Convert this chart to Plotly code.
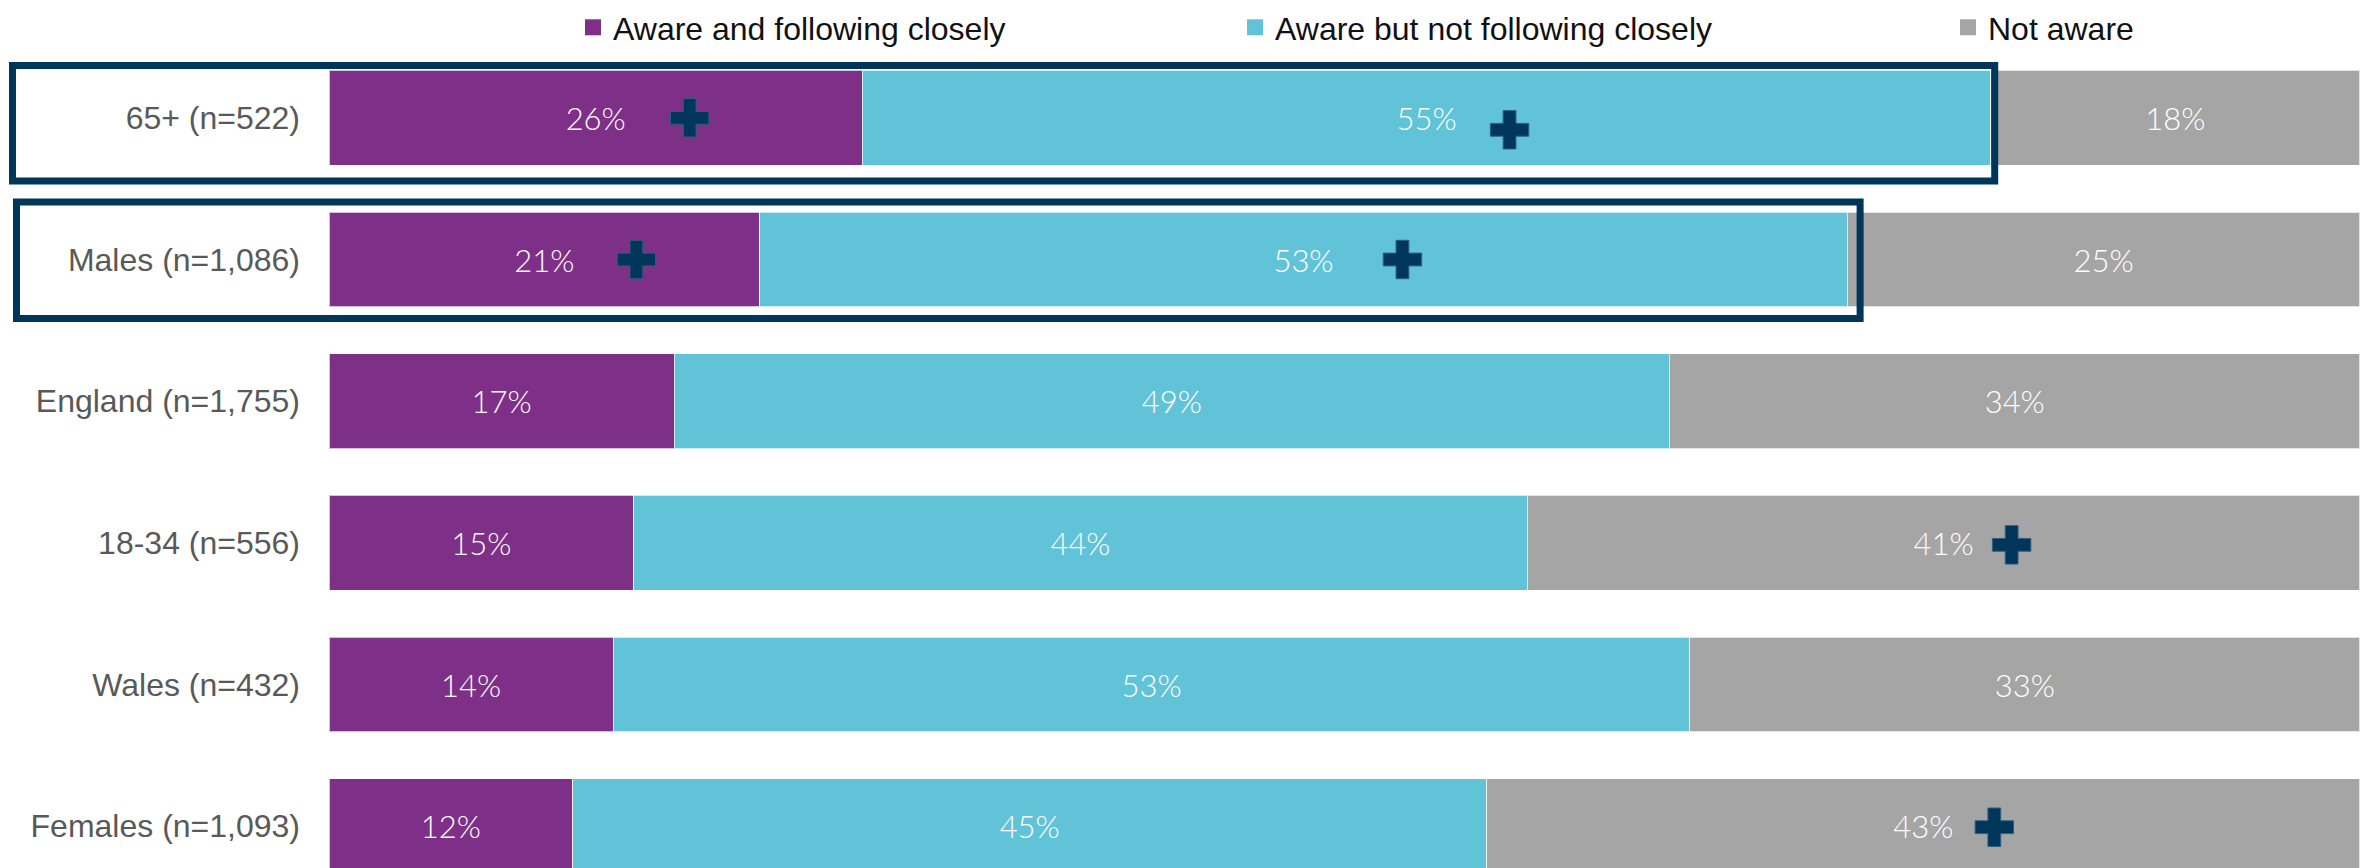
import plotly.graph_objects as go

# Survey groups (top to bottom) and their awareness split, in percent
categories = [
    "65+ (n=522)",
    "Males (n=1,086)",
    "England (n=1,755)",
    "18-34 (n=556)",
    "Wales (n=432)",
    "Females (n=1,093)",
]
following = [26, 21, 17, 15, 14, 12]
not_following = [55, 53, 49, 44, 53, 45]
not_aware = [18, 25, 34, 41, 33, 43]

# Significantly higher than the total (shown with a plus sign)
sig_following = [True, True, False, False, False, False]
sig_not_following = [True, True, False, False, False, False]
sig_not_aware = [False, False, False, True, False, True]

series_names = [
    "Aware and following closely",
    "Aware but not following closely",
    "Not aware",
]

# ---- styling -------------------------------------------------------------
W, H = 2362, 868
M_L, M_R, M_T, M_B = 329, 2, 44, 0
PLOT_W = W - M_L - M_R
PLOT_H = H - M_T - M_B
X_MAX = 100.001                  # a hair over 100 so rounding never pushes a stack past the edge
Y_RANGE = [5.295, -0.5]          # reversed: first group on top, last one cut at the bottom edge

COLORS = ["#7E2F87", "#61C3D8", "#A5A5A5"]
NAVY = "#003659"
LABEL_FONT = dict(family="Lato, Inter, Open Sans, sans-serif", size=31, color="white", weight=300)
AXIS_FONT = dict(family="Liberation Sans, Arial, sans-serif", size=32, color="#595959")
LEGEND_FONT = dict(family="Liberation Sans, Arial, sans-serif", size=32, color="#111111")

# pixel nudges of each plus sign from the centre of its segment: (series, row) -> (dx, dy)
PLUS_NUDGE = {
    (0, 0): (94, 0), (0, 1): (92, 0),
    (1, 0): (83, 12), (1, 1): (99, 0),
    (2, 3): (68, 2), (2, 5): (71, 1),
}

rows = list(range(len(categories)))
values = [following, not_following, not_aware]
sigs = [sig_following, sig_not_following, sig_not_aware]
legend_ids = ["legend", "legend2", "legend3"]

fig = go.Figure()

for name, vals, color in zip(series_names, values, COLORS):
    fig.add_trace(go.Bar(
        name=name,
        y=rows,
        x=vals,
        orientation="h",
        marker=dict(color=color, line=dict(color="rgba(255,255,255,0.7)", width=1)),
        text=[f"{v}%" for v in vals],
        texttemplate="%{text}",
        textposition="inside",
        insidetextanchor="middle",
        textangle=0,
        insidetextfont=LABEL_FONT,
        showlegend=False,
        hovertemplate="%{text}<extra>" + name + "</extra>",
    ))

# Legend keys: square swatches, one legend box per series
for name, color, lg in zip(series_names, COLORS, legend_ids):
    fig.add_trace(go.Scatter(
        name=name, x=[None], y=[None], mode="markers",
        marker=dict(symbol="square", size=16, color=color),
        legend=lg, hoverinfo="skip",
    ))

# Plus signs: placed next to the value label, from the normalised segment midpoints
px_per_unit = PLOT_W / X_MAX
px_per_row = PLOT_H / (Y_RANGE[0] - Y_RANGE[1])
plus_x, plus_y = [], []
for r in rows:
    totals = sum(v[r] for v in values)
    start = 0.0
    for s, vals in enumerate(values):
        share = vals[r] / totals * 100
        if sigs[s][r]:
            dx, dy = PLUS_NUDGE.get((s, r), (80, 0))
            plus_x.append(start + share / 2 + dx / px_per_unit)
            plus_y.append(r + dy / px_per_row)
        start += share

fig.add_trace(go.Scatter(
    x=plus_x, y=plus_y, mode="markers",
    marker=dict(symbol="cross", size=32, color=NAVY, line=dict(color="#2E5F80", width=1)),
    showlegend=False, hoverinfo="skip", cliponaxis=False,
))


# Highlight frames around the first two groups (aware segments only)
def px_to_paper_x(px):
    return (px - M_L) / PLOT_W


def row_to_paper_y(row, dy_px=0.0):
    frac = (row - Y_RANGE[1]) / (Y_RANGE[0] - Y_RANGE[1])
    return 1 - frac - dy_px / PLOT_H


frames = [
    # row, left px, right pad px, top px offset, bottom px offset
    (0, 12.5, 4, -52.6, 63.4),
    (1, 16.5, 13, -57.8, 59.2),
]
shapes = []
for r, left_px, pad, top_off, bot_off in frames:
    aware = (following[r] + not_following[r]) / (following[r] + not_following[r] + not_aware[r])
    shapes.append(dict(
        type="rect", xref="paper", yref="paper",
        x0=px_to_paper_x(left_px), x1=aware * 100 / X_MAX + pad / PLOT_W,
        y0=row_to_paper_y(r, bot_off), y1=row_to_paper_y(r, top_off),
        line=dict(color=NAVY, width=7), fillcolor="rgba(0,0,0,0)", layer="above",
    ))

legend_common = dict(
    orientation="h", xanchor="left", yanchor="middle", y=1.0 + 20 / PLOT_H,
    bgcolor="rgba(0,0,0,0)", font=LEGEND_FONT, borderwidth=0,
)
legend_text_px = [613, 1275, 1988]
legend_pos = [px_to_paper_x(p - 40) for p in legend_text_px]

fig.update_layout(
    width=W, height=H,
    margin=dict(l=M_L, r=M_R, t=M_T, b=M_B),
    barmode="stack",
    barnorm="percent",
    bargap=0.33,
    plot_bgcolor="white",
    paper_bgcolor="white",
    uniformtext=dict(minsize=30, mode="show"),
    xaxis=dict(range=[0, X_MAX], visible=False, fixedrange=True),
    yaxis=dict(
        range=Y_RANGE, tickmode="array", tickvals=rows, ticktext=categories,
        showgrid=False, zeroline=False, showline=False, ticks="",
        ticklabelstandoff=28, tickfont=AXIS_FONT, fixedrange=True,
    ),
    legend=dict(legend_common, x=legend_pos[0]),
    legend2=dict(legend_common, x=legend_pos[1]),
    legend3=dict(legend_common, x=legend_pos[2]),
    shapes=shapes,
)

fig.write_html("out.html")
